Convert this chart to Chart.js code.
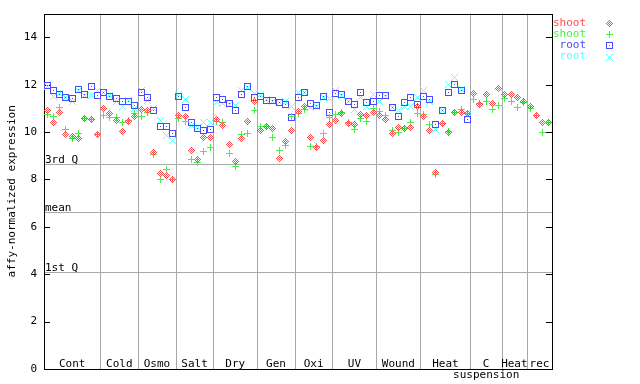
<!DOCTYPE html>
<html><head><meta charset="utf-8">
<script src="https://cdn.jsdelivr.net/npm/chart.js@4/dist/chart.umd.min.js"></script>
<style>html,body{margin:0;padding:0;background:#fff}#wrap{width:640px;height:384px}</style>
</head><body><div id="wrap"><canvas id="c" width="640" height="384"></canvas></div>
<script>
// ---- data ----
const groupLabels = ['Cont','Cold','Osmo','Salt','Dry','Gen','Oxi','UV','Wound','Heat','C\nsuspension','Heat','rec'];
const groupSizes  = [9,6,6,6,7,6,6,7,7,8,5,4,4];
const yTickValues = [0,2,4,6,8,10,12,14];
const refLabels = ['3rd Q','mean','1st Q'];
const refValues = [8.67, 6.61, 4.08];
const seriesNames = ['shoot','shoot','root','root'];
const seriesColors = ['#ff4a4a','#4aee4a','#4a4aff','#5affff'];
const seriesSymbols = ['diamond','plus','square','cross'];

const shootA = [10.89,10.39,10.81,9.91,9.80,9.73,10.57,10.53,9.91,
  10.99,10.78,10.50,10.04,10.46,10.64,
  10.95,10.90,9.12,8.25,8.18,8.01,
  10.71,10.67,9.24,8.84,9.77,9.77,
  10.54,10.29,9.49,8.74,9.73,10.46,11.31,
  10.05,10.22,10.15,8.88,9.59,10.05,
  10.85,11.06,9.77,9.35,9.66,10.33,
  10.50,10.78,10.36,10.33,10.75,10.71,10.82,
  10.71,10.53,9.94,10.19,10.15,10.19,11.06,
  10.64,10.05,8.29,10.36,10.00,10.82,10.82,10.78,
  11.62,11.16,11.58,11.20,11.83,
  11.58,11.58,11.45,11.31,
  11.09,10.70,10.39,10.39];
const shootB = [10.75,10.67,11.03,10.11,9.73,9.94,10.57,10.53,9.91,
  10.71,10.62,10.62,10.40,10.50,10.78,
  10.64,10.81,9.05,8.01,8.42,8.01,
  10.57,10.43,8.84,8.70,9.19,9.35,
  10.43,10.40,9.10,8.53,9.91,9.96,10.92,
  10.25,10.22,9.76,9.24,9.42,10.64,
  10.78,10.95,9.38,9.38,9.96,10.60,
  10.75,10.81,10.39,10.11,10.57,10.46,10.99,
  10.88,10.71,10.05,9.98,10.15,10.40,10.78,
  10.75,10.32,8.22,10.36,10.03,10.82,10.95,10.80,
  11.36,11.20,11.30,10.95,11.13,
  11.43,11.29,11.05,11.23,
  10.99,10.70,10.00,10.39];
const rootA = [11.98,11.74,11.60,11.48,11.40,11.79,11.60,11.93,11.55,
  11.69,11.51,11.41,11.27,11.27,11.13,
  11.69,11.45,10.89,10.22,10.22,9.96,
  11.51,11.04,10.40,10.13,10.06,10.11,
  11.46,11.37,11.20,10.92,11.58,11.93,11.46,
  11.51,11.34,11.34,11.25,11.18,10.61,
  11.46,11.69,11.20,11.13,11.51,10.82,
  11.63,11.58,11.27,11.16,11.69,11.26,11.30,
  11.54,11.54,11.04,10.67,11.25,11.46,11.16,
  11.52,11.39,10.32,10.92,11.65,12.00,11.74,10.53,
  null,null,null,null,null,
  null,null,null,null,
  null,null,null,null];
const rootB = [11.91,11.51,11.62,11.46,11.31,11.74,11.55,11.55,11.77,
  11.69,11.55,11.27,11.08,11.32,11.00,
  11.74,11.33,10.99,10.50,9.84,9.66,
  11.60,11.37,10.29,10.19,10.39,10.39,
  11.23,11.20,11.18,11.13,11.74,11.90,11.63,
  11.60,11.37,11.31,11.25,11.27,11.06,
  11.65,11.69,11.03,11.09,11.45,11.41,
  11.74,11.55,11.27,10.96,11.48,11.06,11.60,
  11.31,11.50,11.04,10.89,11.06,11.09,11.46,
  11.74,11.30,10.11,10.90,12.00,12.30,11.80,10.70,
  null,null,null,null,null,
  null,null,null,null,
  null,null,null,null];

// ---- symbols ----
function makeSymbol(kind, color){
  const c=document.createElement('canvas'); c.width=7; c.height=7;
  const g=c.getContext('2d'); g.fillStyle=color;
  for(let yy=0;yy<7;yy++)for(let xx=0;xx<7;xx++){
    const dx=xx-3, dy=yy-3; let on=false;
    if(kind==='diamond'){const d=Math.abs(dx)+Math.abs(dy); on=(d<=3 && d%2===1);}
    else if(kind==='plus'){on=(dx===0||dy===0);}
    else if(kind==='square'){on=(xx===0||xx===6||yy===0||yy===6||(dx===0&&dy===0));}
    else if(kind==='cross'){on=(Math.abs(dx)===Math.abs(dy));}
    if(on) g.fillRect(xx,yy,1,1);
  }
  return c;
}
const symbols = seriesSymbols.map((k,i)=>makeSymbol(k, seriesColors[i]));
const allSeries = [shootA, shootB, rootA, rootB];
const FONT = '11px "DejaVu Sans Mono"';

const datasets = allSeries.map((arr,i)=>({
  label: seriesNames[i],
  data: arr.map((v,j)=> v==null?null:{x:j,y:v}).filter(p=>p),
  pointStyle: symbols[i],
  pointRadius: 3.5,
  showLine:false
}));

const total = groupSizes.reduce((a,b)=>a+b,0);

const deco = {
  id:'deco',
  beforeDatasetsDraw(chart){
    const ctx=chart.ctx, a=chart.chartArea, xs=chart.scales.x, ys=chart.scales.y;
    ctx.save();
    ctx.strokeStyle='#a8a8a8'; ctx.lineWidth=1;
    // group separators
    let cum=0;
    for(let g=0; g<groupSizes.length-1; g++){
      cum+=groupSizes[g];
      const px=Math.round(xs.getPixelForValue(cum-0.5))+0.5;
      ctx.beginPath(); ctx.moveTo(px,a.top); ctx.lineTo(px,a.bottom); ctx.stroke();
    }
    // reference lines
    ctx.font=FONT; ctx.fillStyle='#000'; ctx.textAlign='left'; ctx.textBaseline='alphabetic';
    refValues.forEach((v,i)=>{
      const py=Math.round(ys.getPixelForValue(v))+0.5;
      ctx.beginPath(); ctx.moveTo(a.left,py); ctx.lineTo(a.right,py); ctx.stroke();
      ctx.fillText(refLabels[i], a.left+1, py-2);
    });
    // group labels
    ctx.textAlign='center';
    let s=0;
    groupSizes.forEach((n,g)=>{
      const cx=xs.getPixelForValue(s+(n-1)/2);
      const lines=groupLabels[g].split('\n');
      lines.forEach((t,k)=>ctx.fillText(t, cx, a.bottom-2+k*11));
      s+=n;
    });
    // border
    ctx.strokeStyle='#000';
    ctx.strokeRect(Math.round(a.left)+0.5, Math.round(a.top)+0.5, Math.round(a.right-a.left), Math.round(a.bottom-a.top));
    // inward ticks on both sides
    yTickValues.forEach(v=>{
      const py=Math.round(ys.getPixelForValue(v))+0.5;
      ctx.beginPath(); ctx.moveTo(a.left,py); ctx.lineTo(a.left+6,py);
      ctx.moveTo(a.right,py); ctx.lineTo(a.right-6,py); ctx.stroke();
    });
    ctx.restore();
    ctx.imageSmoothingEnabled=false;
  },
  afterDraw(chart){
    const ctx=chart.ctx, a=chart.chartArea;
    ctx.save();
    ctx.font=FONT; ctx.textBaseline='middle';
    seriesNames.forEach((n,i)=>{
      const y=23+i*11.2;
      ctx.fillStyle=seriesColors[i]; ctx.textAlign='right';
      ctx.fillText(n, 586, y);
      ctx.imageSmoothingEnabled=false;
      ctx.drawImage(symbols[i], 606, Math.round(y)-3);
    });
    // y title
    ctx.fillStyle='#000'; ctx.textAlign='center';
    ctx.translate(12,(a.top+a.bottom)/2); ctx.rotate(-Math.PI/2);
    ctx.fillText('affy-normalized expression',0,0);
    ctx.restore();
  }
};

new Chart(document.getElementById('c'),{
  type:'scatter',
  data:{datasets},
  options:{
    responsive:false, animation:false, devicePixelRatio:1,
    layout:{padding:{top:13,right:88,bottom:15,left:0}},
    plugins:{legend:{display:false},tooltip:{enabled:false}},
    scales:{
      x:{type:'linear',min:-0.5,max:total-0.5,display:false},
      y:{type:'linear',min:0,max:15,
         grid:{display:false,drawTicks:false},border:{display:false},
         ticks:{stepSize:2,includeBounds:false,color:'#000',padding:7,font:{family:'DejaVu Sans Mono',size:11}},
         afterFit(s){s.width=44;}
      }
    }
  },
  plugins:[deco]
});
</script></body></html>
